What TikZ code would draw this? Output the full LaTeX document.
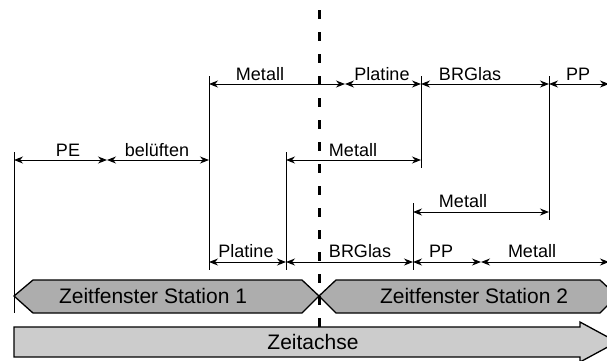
\documentclass[tikz,border=0pt]{standalone}
\usepackage{fontspec}
\setmainfont{Liberation Sans}
\usetikzlibrary{arrows.meta}
\begin{document}
\begin{tikzpicture}[x=1pt,y=-1pt,
  dim/.style={line width=1pt,{Stealth[length=9pt,width=7pt]}-{Stealth[length=9pt,width=7pt]}},
  tick/.style={line width=1pt},
  lbl/.style={anchor=base,inner sep=0pt,font=\fontsize{18}{20}\selectfont},
  big/.style={anchor=center,inner sep=0pt,font=\fontsize{21}{24}\selectfont},
  hexfill/.style={fill=black!32,draw=black,line width=1.3pt,line join=miter},
  axisfill/.style={fill=black!20,draw=black,line width=1.3pt,line join=miter},
  divider/.style={line width=3pt,dash pattern=on 9pt off 13pt}]
\useasboundingbox (0,0) rectangle (607,360);
\begin{scope}
\clip (0,0) rectangle (607,360);
% Zeitachse
\draw[axisfill] (14,327) -- (580,327) -- (580,322) -- (617,342) -- (580,362) -- (580,357) -- (14,357) -- cycle;
\node[big] (za) at (313,342) {Zeitachse};
% Station windows
\draw[hexfill] (14,296) -- (33,280) -- (302,280) -- (319,296) -- (302,313) -- (33,313) -- cycle;
\node[big] (st1) at (153,296) {Zeitfenster Station 1};
\draw[hexfill] (319,296) -- (336,280) -- (600,280) -- (617,296) -- (600,313) -- (336,313) -- cycle;
\node[big] (st2) at (474,296) {Zeitfenster Station 2};
% ticks
\coordinate (t0top) at (14,152);   \coordinate (t0bot) at (14,313);
\coordinate (t1top) at (209,76);   \coordinate (t1bot) at (209,270);
\coordinate (t2top) at (286,152);  \coordinate (t2bot) at (286,270);
\coordinate (t3top) at (421,76);   \coordinate (t3bot) at (421,168);
\coordinate (t4top) at (549,76);   \coordinate (t4bot) at (549,220);
\coordinate (t5top) at (413,203);  \coordinate (t5bot) at (413,270);
\foreach \t in {t0,t1,t2,t3,t4,t5} \draw[tick] (\t top) -- (\t bot);
% row A (y=84)
\coordinate (a0) at (209,84); \coordinate (a1) at (345,84); \coordinate (a2) at (421,84);
\coordinate (a3) at (549,84); \coordinate (a4) at (609,84);
\draw[dim] (a0) -- (a1); \draw[dim] (a1) -- (a2); \draw[dim] (a2) -- (a3); \draw[dim] (a3) -- (a4);
\node[lbl] (la1) at (260,80) {Metall};
\node[lbl] (la2) at (382,80) {Platine};
\node[lbl] (la3) at (470,80) {BRGlas};
\node[lbl] (la4) at (578,80) {PP};
% row B (y=160)
\coordinate (b0) at (14,160); \coordinate (b1) at (107,160); \coordinate (b2) at (209,160);
\coordinate (b3) at (286,160); \coordinate (b4) at (421,160);
\draw[dim] (b0) -- (b1); \draw[dim] (b1) -- (b2); \draw[dim] (b3) -- (b4);
\node[lbl] (lb1) at (68,156) {PE};
\node[lbl] (lb2) at (157,156) {belüften};
\node[lbl] (lb3) at (353,156) {Metall};
% row C (y=212)
\coordinate (c0) at (413,212); \coordinate (c1) at (549,212);
\draw[dim] (c0) -- (c1);
\node[lbl] (lc1) at (463,207.5) {Metall};
% row D (y=262)
\coordinate (d0) at (209,262); \coordinate (d1) at (286,262); \coordinate (d2) at (413,262);
\coordinate (d3) at (481,262); \coordinate (d4) at (609,262);
\draw[dim] (d0) -- (d1); \draw[dim] (d1) -- (d2); \draw[dim] (d2) -- (d3); \draw[dim] (d3) -- (d4);
\node[lbl] (ld1) at (246,257.5) {Platine};
\node[lbl] (ld2) at (360,257.5) {BRGlas};
\node[lbl] (ld3) at (441,257.5) {PP};
\node[lbl] (ld4) at (532,257.5) {Metall};
% divider
\coordinate (dvtop) at (319,10); \coordinate (dvbot) at (319,330);
\draw[divider] (dvtop) -- (dvbot);
\end{scope}
\end{tikzpicture}
\end{document}
